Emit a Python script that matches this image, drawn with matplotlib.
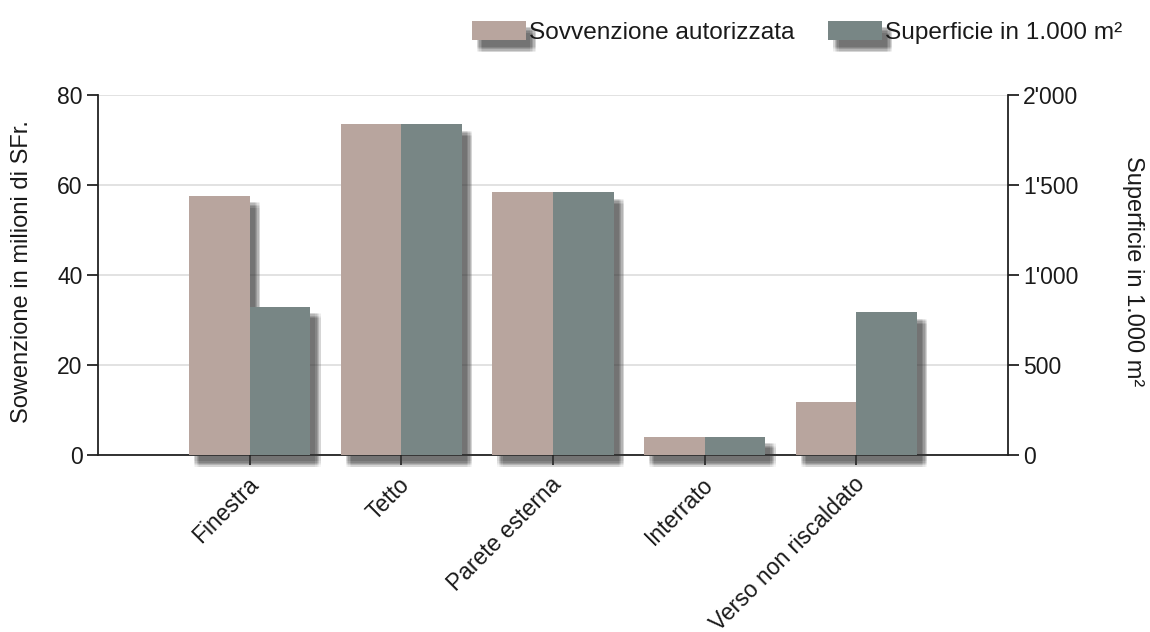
import matplotlib
matplotlib.use("Agg")
import matplotlib.pyplot as plt
import matplotlib.patheffects as pe
import matplotlib.transforms as mtransforms
from matplotlib.ticker import FuncFormatter, FixedLocator
from matplotlib.patches import Patch
import numpy as np

categories = ["Finestra", "Tetto", "Parete esterna", "Interrato", "Verso non riscaldato"]
sovvenzione = [57.6, 73.5, 58.4, 4.1, 11.7]          # milioni di SFr.
superficie = [824, 1837, 1459, 102, 793]              # 1.000 m²
left_ticks = [0, 20, 40, 60, 80]
right_ticks = [0, 500, 1000, 1500, 2000]
series_labels = ["Sovvenzione autorizzata", "Superficie in 1.000 m²"]

c_left = "#B8A59E"
c_right = "#788685"
txt = "#1a1a1a"
FS = 16.5

plt.rcParams["font.family"] = ["Liberation Sans", "DejaVu Sans"]

fig = plt.figure(figsize=(11.5, 6.32), dpi=100)
ax = fig.add_axes([98 / 1150, 1 - 455 / 632, (1008 - 98) / 1150, (455 - 95) / 632])
ax2 = ax.twinx()

def shadow():
    effs = []
    spread = [-2.0, -1.0, 0.0, 1.0, 2.0]
    for dx in spread:
        for dy in spread:
            effs.append(pe.SimplePatchShadow(offset=(5.5 + dx, -6.5 + dy),
                                             shadow_rgbFace="#3a3a3a", alpha=0.045))
    effs.append(pe.Normal())
    return effs

x = np.arange(len(categories))
w = 0.4
bl = ax.bar(x - w / 2, sovvenzione, width=w, color=c_left, zorder=3, clip_on=False)
br = ax2.bar(x + w / 2, superficie, width=w, color=c_right, zorder=3, clip_on=False)
for b in list(bl) + list(br):
    b.set_path_effects(shadow())

ax.set_xlim(-1, 5)
ax.set_ylim(0, 80)
ax2.set_ylim(0, 2000)

ax.yaxis.set_major_locator(FixedLocator(left_ticks))
ax2.yaxis.set_major_locator(FixedLocator(right_ticks))
ax2.yaxis.set_major_formatter(FuncFormatter(lambda v, p: f"{int(v):,}".replace(",", "'")))

ax.set_axisbelow(True)
ax.grid(axis="y", color="#dddddd", linewidth=1.2, zorder=0)

# category ticks + rotated labels placed at the tick positions
ax.set_xticks(x)
ax.set_xticklabels([])
off = mtransforms.ScaledTranslation(5 / 100, -26 / 100, fig.dpi_scale_trans)
for xi, cat in zip(x, categories):
    ax.text(xi, 0, cat, transform=ax.get_xaxis_transform() + off,
            rotation=45, ha="right", va="center", rotation_mode="anchor",
            fontsize=FS, color=txt, clip_on=False)

for a in (ax, ax2):
    a.spines["top"].set_visible(False)
    for s in ("left", "right", "bottom"):
        a.spines[s].set_color("#222222")
        a.spines[s].set_linewidth(1.3)
    a.tick_params(colors="#222222", labelcolor=txt, labelsize=FS, length=8, width=1.3, pad=3)
ax.spines["right"].set_visible(False)
ax2.spines["left"].set_visible(False)
ax2.spines["bottom"].set_visible(False)
ax.tick_params(axis="x", length=7, pad=8)

ax.set_ylabel("Sowenzione in milioni di SFr.", fontsize=17, color=txt, va="center")
ax.yaxis.set_label_coords(-0.084, 0.51)
ax2.set_ylabel("Superficie in 1.000 m²", fontsize=17, color=txt, rotation=-90, va="center")
ax2.yaxis.set_label_coords(1.137, 0.51)

handles = [Patch(facecolor=c_left), Patch(facecolor=c_right)]
leg = fig.legend(handles, series_labels,
                 loc="upper right", bbox_to_anchor=(1132 / 1150, 1 - 11 / 632), ncol=2,
                 frameon=False, fontsize=17.6, handlelength=2.2, handleheight=0.85,
                 handletextpad=0.12, columnspacing=1.4, labelcolor=txt, borderaxespad=0)
for p in leg.get_patches():
    p.set_path_effects(shadow())

fig.savefig("out.png", dpi=100)
